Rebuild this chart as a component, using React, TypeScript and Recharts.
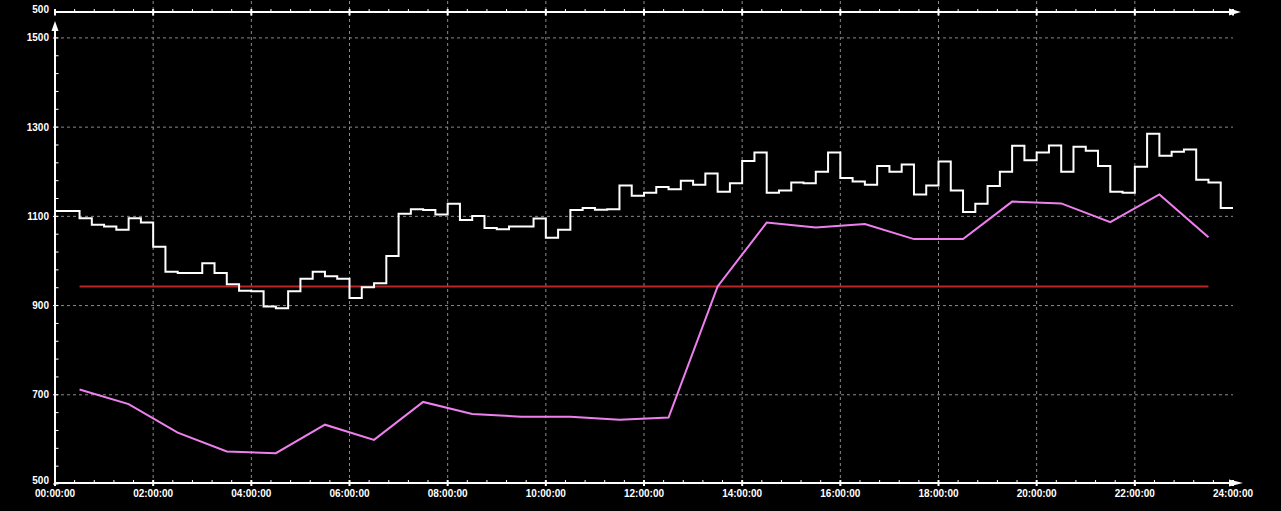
import React from "react";
import { ComposedChart, Line, XAxis, YAxis, ReferenceLine } from "recharts";

// white step series: 15-minute values from 00:00 to 23:45, plus closing point at 24:00
const stepValues = [
  1112, 1112, 1096, 1081, 1077, 1070, 1096, 1086,
  1032, 976, 973, 973, 995, 973, 948, 933,
  932, 898, 894, 932, 960, 976, 966, 960,
  917, 941, 950, 1011, 1106, 1116, 1114, 1104,
  1128, 1092, 1101, 1074, 1071, 1077, 1077, 1095,
  1052, 1070, 1114, 1119, 1115, 1116, 1169, 1146,
  1153, 1166, 1161, 1180, 1171, 1196, 1155, 1174,
  1224, 1243, 1153, 1158, 1176, 1174, 1200, 1243,
  1186, 1178, 1171, 1213, 1200, 1216, 1149, 1169,
  1223, 1158, 1110, 1128, 1168, 1200, 1258, 1226,
  1243, 1259, 1200, 1256, 1247, 1213, 1155, 1153,
  1211, 1285, 1236, 1245, 1250, 1182, 1176, 1119,
  1119,
];

// magenta hourly series at half past each hour (minutes)
const hourlyMinutes = [
  30, 90, 150, 210, 270, 330, 390, 450, 510, 570, 630, 690,
  750, 810, 870, 930, 990, 1050, 1110, 1170, 1230, 1290, 1350, 1410,
];
const hourlyValues = [
  712, 679, 615, 573, 569, 633, 599, 684, 657, 651, 651, 644,
  649, 943, 1086, 1075, 1083, 1049, 1049, 1133, 1129, 1087, 1149, 1053,
];

// red reference level
const limitMinutes = [30, 1410];
const limitValue = 943;

const xMinorTicks = Array.from({ length: 61 }, (_, i) => i * 24);
const xGridValues = [120, 240, 360, 480, 600, 720, 840, 960, 1080, 1200, 1320];
const yMinorTicks = Array.from({ length: 26 }, (_, i) => 500 + i * 40);
const yGridValues = [700, 900, 1100, 1300, 1500];

const stepData = stepValues.map((v, i) => ({ t: i * 15, v }));
const hourlyData = hourlyMinutes.map((t, i) => ({ t, v: hourlyValues[i] }));
const limitData = limitMinutes.map((t) => ({ t, v: limitValue }));

const FONT = "'Liberation Sans', Arial, sans-serif";

const fmt = (m: number) => `${String(Math.round(m / 60)).padStart(2, "0")}:00:00`;

const XTick = (props: any) => {
  const { x, payload } = props;
  const v = payload.value as number;
  const major = v % 120 === 0;
  return (
    <g>
      {major ? (
        <>
          <line x1={x} x2={x} y1={480} y2={486} stroke="#fff" strokeWidth={2} />
          <line x1={x} x2={x} y1={9} y2={15.5} stroke="#fff" strokeWidth={2} />
          <text
            x={x}
            y={493}
            textAnchor="middle"
            dominantBaseline="central"
            fill="#fff"
            fontFamily={FONT}
            fontWeight="bold"
            fontSize={10}
          >
            {fmt(v)}
          </text>
        </>
      ) : (
        <>
          <line x1={x} x2={x} y1={480} y2={483} stroke="#fff" strokeWidth={1} />
          <line x1={x} x2={x} y1={9} y2={12} stroke="#fff" strokeWidth={1} />
        </>
      )}
    </g>
  );
};

const YTick = (props: any) => {
  const { y, payload } = props;
  const v = payload.value as number;
  const major = (v - 500) % 200 === 0;
  return (
    <g>
      {major ? (
        <>
          <line x1={53} x2={58.5} y1={y} y2={y} stroke="#fff" strokeWidth={1} />
          <text
            x={49}
            y={v === 500 ? y - 4 : y}
            textAnchor="end"
            dominantBaseline="central"
            fill="#fff"
            fontFamily={FONT}
            fontWeight="bold"
            fontSize={10}
          >
            {v}
          </text>
        </>
      ) : (
        <line x1={55} x2={58.5} y1={y} y2={y} stroke="#fff" strokeWidth={1} />
      )}
    </g>
  );
};

export default function App() {
  return (
    <div
      style={{
        position: "absolute",
        left: 0,
        top: 0,
        width: 1281,
        height: 511,
        background: "#000",
        overflow: "hidden",
      }}
    >
      <ComposedChart
        width={1281}
        height={511}
        margin={{ top: 0, right: 48, bottom: 0, left: 0 }}
      >
        <XAxis
          dataKey="t"
          type="number"
          domain={[0, 1440]}
          allowDataOverflow
          ticks={xMinorTicks}
          interval={0}
          height={27}
          axisLine={false}
          tickLine={false}
          tick={<XTick />}
        />
        <YAxis
          type="number"
          domain={[500, 1585]}
          allowDataOverflow
          ticks={yMinorTicks}
          interval={0}
          width={55}
          axisLine={false}
          tickLine={false}
          tick={<YTick />}
        />
        {yGridValues.map((v) => (
          <ReferenceLine key={"h" + v} y={v} stroke="#8a8a8a" strokeDasharray="3 3" strokeWidth={1} />
        ))}
        {xGridValues.map((v) => (
          <ReferenceLine key={"v" + v} x={v} stroke="#8a8a8a" strokeDasharray="3 3" strokeWidth={1} />
        ))}
        <Line
          data={limitData}
          dataKey="v"
          type="linear"
          stroke="#b82626"
          strokeWidth={2}
          dot={false}
          isAnimationActive={false}
        />
        <Line
          data={hourlyData}
          dataKey="v"
          type="linear"
          stroke="#ee80ee"
          strokeWidth={2}
          dot={false}
          isAnimationActive={false}
        />
        <Line
          data={stepData}
          dataKey="v"
          type="stepAfter"
          stroke="#ffffff"
          strokeWidth={2}
          dot={false}
          isAnimationActive={false}
        />
      </ComposedChart>
      <svg
        width={1281}
        height={511}
        style={{ position: "absolute", left: 0, top: 0, pointerEvents: "none" }}
      >
        <line x1={54} x2={1233} y1={12} y2={12} stroke="#fff" strokeWidth={2} />
        <polygon points="1229,8.5 1241,12 1229,15.5" fill="#fff" />
        <line x1={55} x2={55} y1={25} y2={484} stroke="#fff" strokeWidth={2} />
        <polygon points="51.5,31 55,21 58.5,31" fill="#fff" />
        <line x1={54} x2={1233} y1={483} y2={483} stroke="#fff" strokeWidth={2} />
        <polygon points="1229,479.5 1243,483 1229,486.5" fill="#fff" />
        <text
          x={49}
          y={9}
          textAnchor="end"
          dominantBaseline="central"
          fill="#fff"
          fontFamily={FONT}
          fontWeight="bold"
          fontSize={10}
        >
          500
        </text>
      </svg>
    </div>
  );
}
